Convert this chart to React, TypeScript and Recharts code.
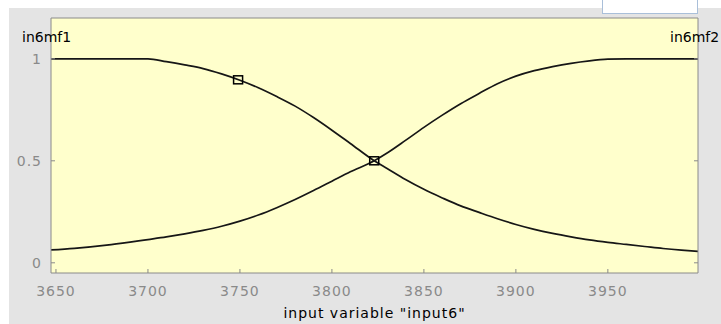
import React from "react";
import {
  ComposedChart,
  Line,
  Scatter,
  XAxis,
  YAxis,
  CartesianGrid,
} from "recharts";

// input values along the universe of discourse
const inputX = [
  3647, 3660, 3680, 3700, 3710, 3720, 3730, 3740, 3750, 3760, 3770, 3780,
  3790, 3800, 3810, 3823, 3830, 3840, 3850, 3860, 3870, 3880, 3890, 3900,
  3910, 3920, 3930, 3940, 3950, 3960, 3970, 3980, 3990, 3999,
];

// membership degree of in6mf1 (falling)
const mf1 = [
  1, 1, 1, 1, 0.986, 0.97, 0.952, 0.926, 0.895, 0.858, 0.815, 0.768, 0.712,
  0.65, 0.585, 0.5, 0.462, 0.408, 0.36, 0.318, 0.279, 0.247, 0.216, 0.188,
  0.164, 0.144, 0.127, 0.112, 0.1, 0.09, 0.08, 0.07, 0.062, 0.056,
];

// membership degree of in6mf2 (rising)
const mf2 = [
  0.063, 0.071, 0.089, 0.114, 0.127, 0.142, 0.159, 0.179, 0.204, 0.234,
  0.27, 0.31, 0.354, 0.4, 0.446, 0.5, 0.538, 0.6, 0.664, 0.724, 0.78, 0.83,
  0.878, 0.915, 0.942, 0.962, 0.978, 0.99, 0.998, 1, 1, 1, 1, 1,
];

// selected points shown with square handles
const handleX = [3749, 3823];
const handleY = [0.897, 0.5];

const xTicks = [3650, 3700, 3750, 3800, 3850, 3900, 3950];
const yTicks = [0, 0.5, 1];

const rows = inputX.map((x, i) => ({ x, mf1: mf1[i], mf2: mf2[i] }));
const handles = handleX.map((x, i) => ({ x, y: handleY[i] }));

const FONT = '"DejaVu Sans", sans-serif';
const GREY = "#8a8a8a";
const tickStyle = { fill: GREY, fontSize: 14, fontFamily: FONT, letterSpacing: 1 };

const SquareHandle = (props: any) => {
  const { cx, cy } = props;
  if (cx == null || cy == null) return null;
  return (
    <rect
      x={cx - 4.5}
      y={cy - 4}
      width={9}
      height={8}
      fill="none"
      stroke="#000"
      strokeWidth={1.5}
    />
  );
};

export default function App() {
  return (
    <div
      style={{
        position: "absolute",
        left: 0,
        top: 0,
        width: 721,
        height: 324,
        background: "#fff",
        overflow: "hidden",
      }}
    >
      <div
        style={{
          position: "absolute",
          left: 9,
          top: 8,
          right: 0,
          bottom: 0,
          background: "#e4e4e4",
        }}
      />
      <div
        style={{
          position: "absolute",
          left: 602,
          top: -2,
          width: 94,
          height: 14,
          background: "#fff",
          border: "1px solid #a9bfd9",
        }}
      />
      <div style={{ position: "absolute", left: 0, top: 0 }}>
        <ComposedChart
          width={721}
          height={324}
          data={rows}
          margin={{ top: 0, right: 0, bottom: 0, left: 0 }}
        >
          <CartesianGrid
            fill="#ffffcc"
            fillOpacity={1}
            horizontal={false}
            vertical={false}
          />
          <XAxis
            dataKey="x"
            type="number"
            domain={[3647.3, 3999]}
            ticks={xTicks}
            allowDataOverflow
            height={51}
            tickSize={-4}
            tickMargin={17}
            stroke={GREY}
            tick={tickStyle}
            label={{
              value: 'input variable "input6"',
              position: "insideBottom",
              offset: 6,
              style: { fill: "#000", fontSize: 14, fontFamily: FONT, letterSpacing: 1 },
            }}
          />
          <XAxis
            xAxisId="top"
            orientation="top"
            type="number"
            domain={[3647.3, 3999]}
            ticks={xTicks}
            allowDataOverflow
            height={18}
            tickSize={-4}
            stroke={GREY}
            tickFormatter={() => ""}
          />
          <YAxis
            type="number"
            domain={[-0.05, 1.2]}
            ticks={yTicks}
            allowDataOverflow
            width={51}
            tickSize={-4}
            tickMargin={13}
            stroke={GREY}
            tick={tickStyle}
          />
          <YAxis
            yAxisId="right"
            orientation="right"
            type="number"
            domain={[-0.05, 1.2]}
            ticks={yTicks}
            allowDataOverflow
            width={23}
            tickSize={-4}
            stroke={GREY}
            tickFormatter={() => ""}
          />
          <Line
            dataKey="mf1"
            type="monotone"
            stroke="#161616"
            strokeWidth={1.7}
            dot={false}
            isAnimationActive={false}
          />
          <Line
            dataKey="mf2"
            type="monotone"
            stroke="#161616"
            strokeWidth={1.7}
            dot={false}
            isAnimationActive={false}
          />
          <Scatter
            data={handles}
            dataKey="y"
            shape={SquareHandle}
            isAnimationActive={false}
          />
        </ComposedChart>
      </div>
      <svg
        width={721}
        height={324}
        style={{ position: "absolute", left: 0, top: 0, pointerEvents: "none" }}
      >
        <text x={22} y={42} fontSize={14} fontFamily={FONT} fill="#000">
          in6mf1
        </text>
        <text x={670} y={42} fontSize={14} fontFamily={FONT} fill="#000">
          in6mf2
        </text>
      </svg>
    </div>
  );
}
